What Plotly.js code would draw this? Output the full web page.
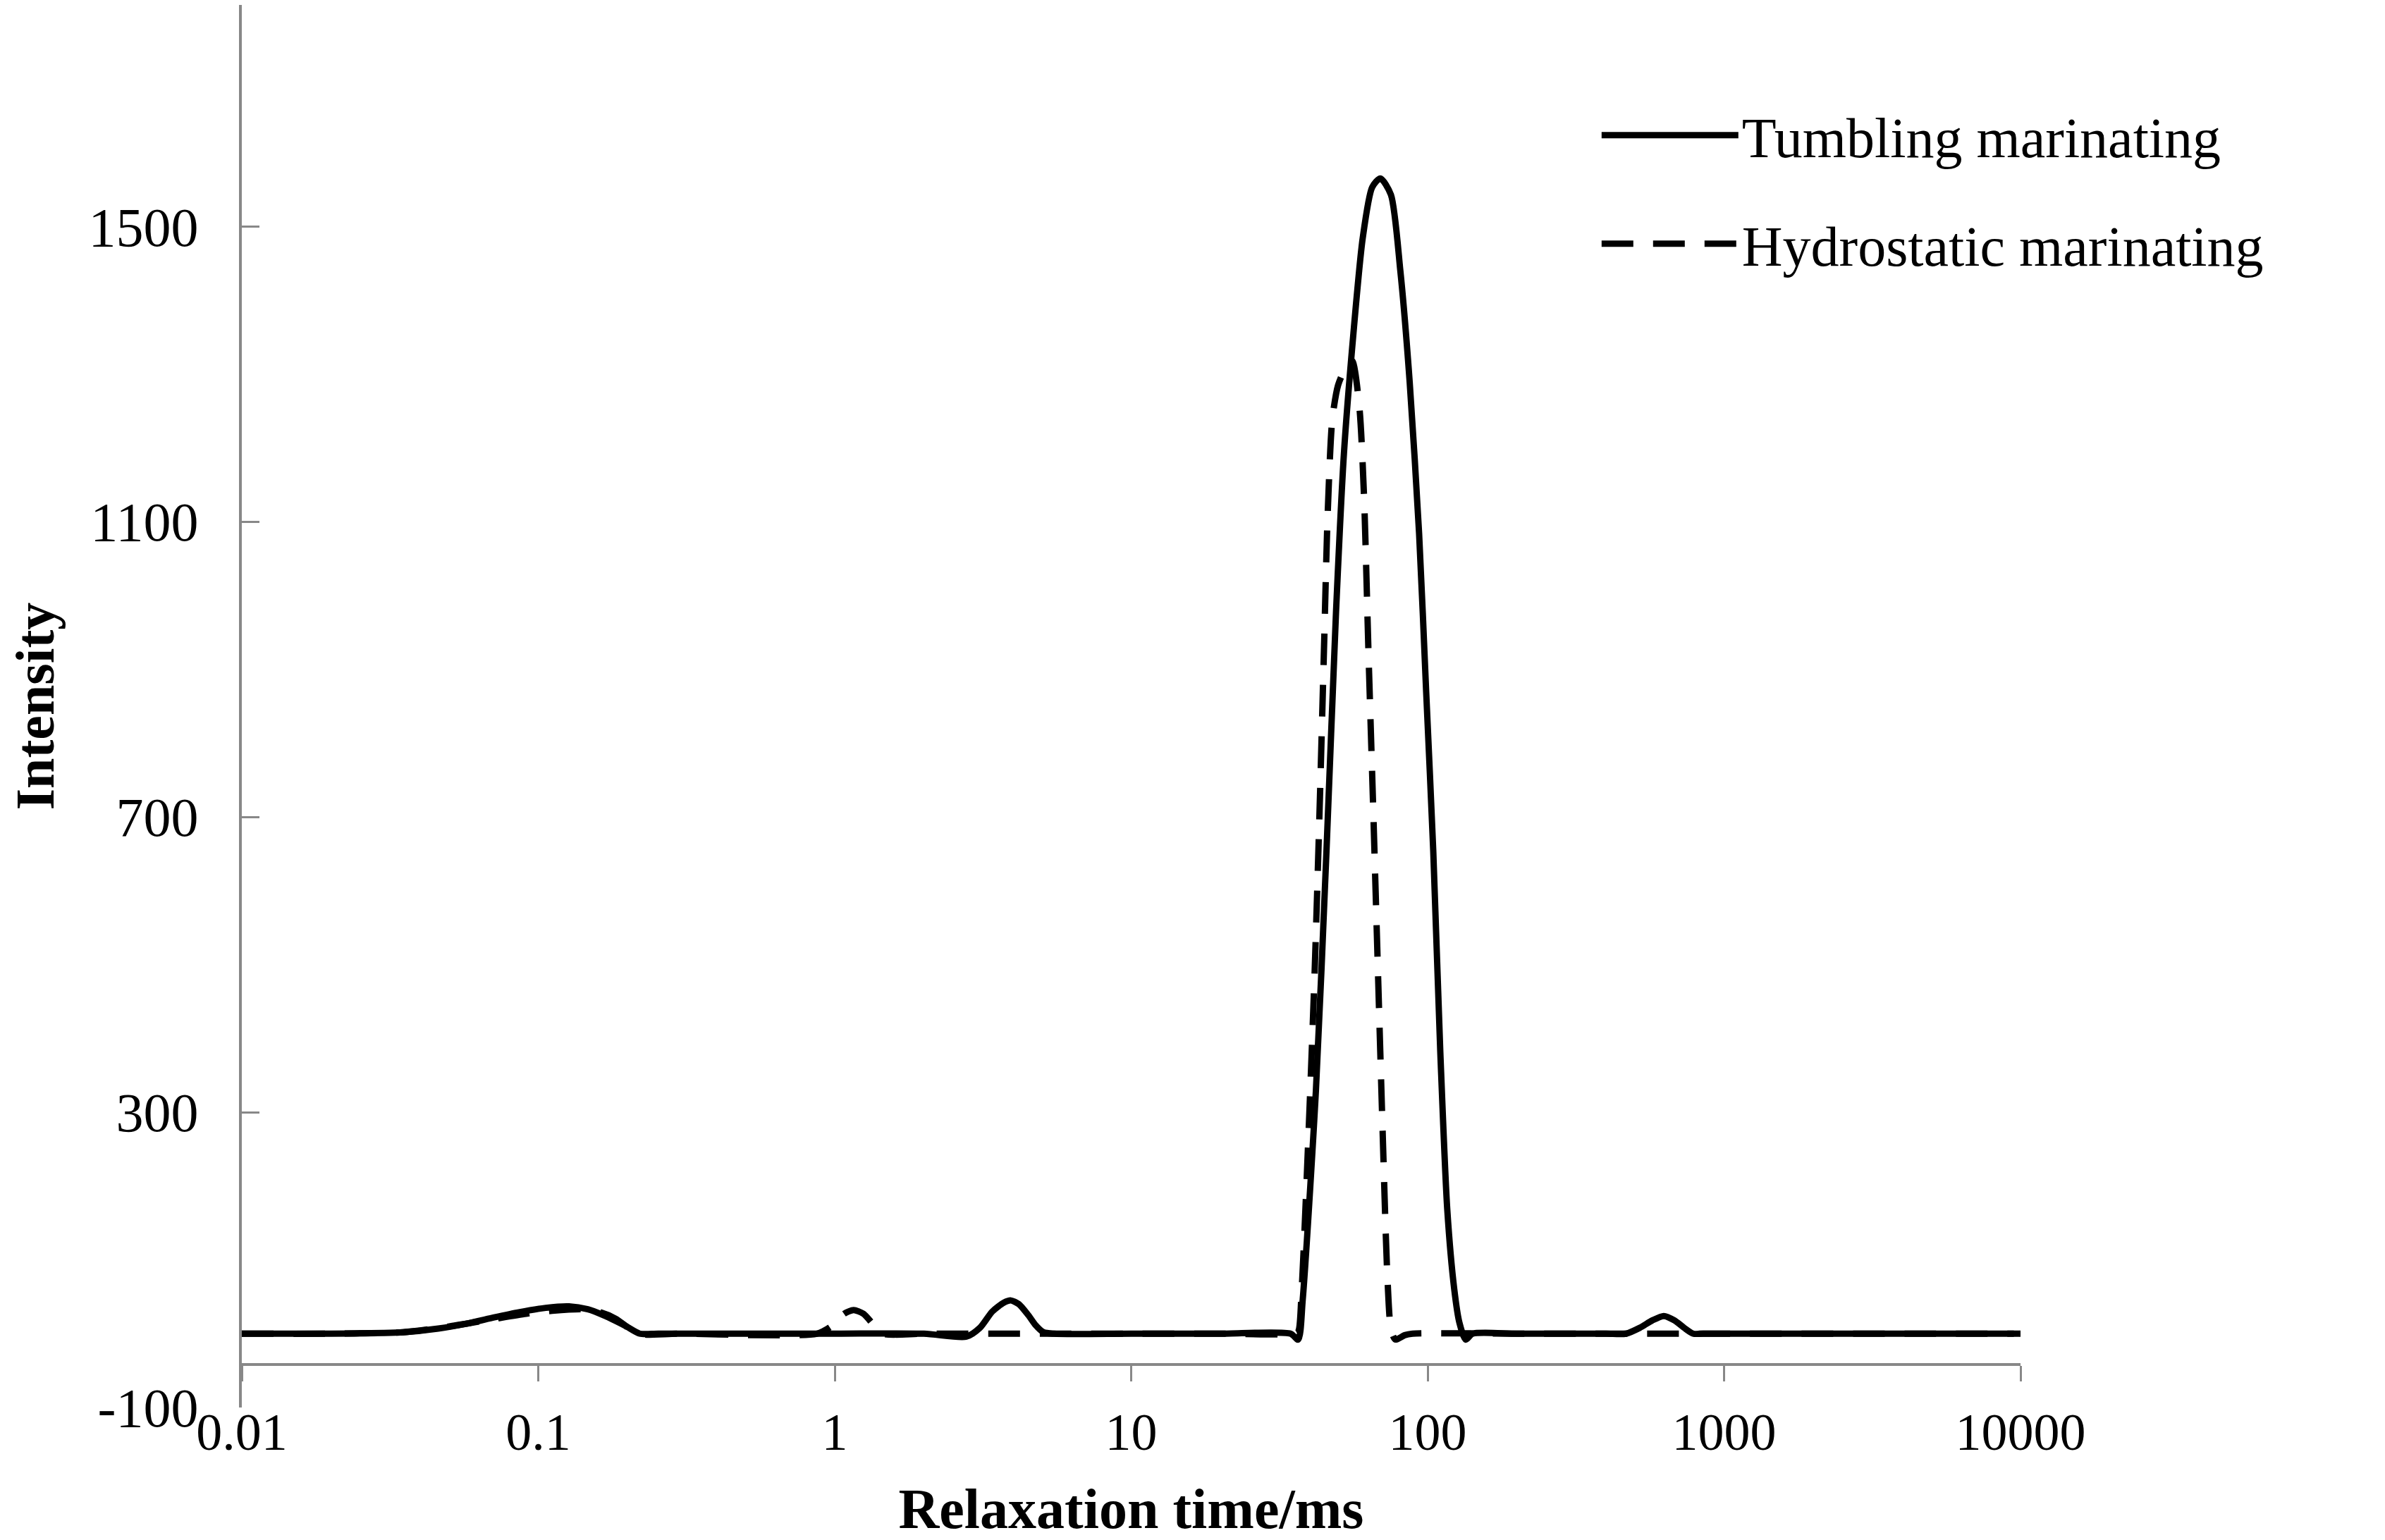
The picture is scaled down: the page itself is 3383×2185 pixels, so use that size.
<!DOCTYPE html>
<html>
<head>
<meta charset="utf-8">
<script src="https://cdn.plot.ly/plotly-3.0.1.min.js"></script>
<style>
  html, body { margin: 0; padding: 0; background: #fff; }
  #chart { width: 3383px; height: 2185px; }
</style>
</head>
<body>
<div id="chart"></div>
<script>
// relaxation time (ms) and intensity
var tumblingX = [0.01, 0.02, 0.03, 0.035, 0.046, 0.058, 0.071, 0.086, 0.106, 0.127, 0.147, 0.166, 0.183, 0.198, 0.22, 0.254,
  0.5, 1, 2, 2.78, 3.09, 3.4, 3.72, 3.93, 4.18, 4.5, 4.75, 5.06, 5.48, 10, 20, 34.5, 36.6, 37.9, 42, 45.6, 49.1, 52.2, 56.2, 60.4,
  65, 69.3, 75.2, 80.9, 87, 93.6, 98.9, 104.5, 110.3, 116.5, 123, 128, 134.4, 141.8, 200, 400, 467, 520, 573, 626, 680,
  733, 787, 850, 2000, 5000, 9500];
var tumblingY = [0, 0, 1, 2, 7, 14, 22, 29, 35, 37, 33, 25, 17, 10, 0, 0,
  0, 0, 0, -4, 8, 30, 42, 45, 40, 25, 12, 2, 0, 0, 0, 0, -8, 46, 330, 655, 978, 1192, 1355, 1484,
  1553, 1565, 1543, 1440, 1289, 1084, 869, 653, 384, 168, 60, 15, -8, 0, 0, 0, 0, 8, 18, 24, 18,
  8, 0, 0, 0, 0, 0];

var hydroX = [0.01, 0.02, 0.035, 0.0505, 0.071, 0.091, 0.1115, 0.142, 0.162, 0.183, 0.198, 0.213, 0.3, 0.87, 0.974, 1.076, 1.158,
  1.25, 1.353, 1.455, 2, 5, 10, 20, 35.5, 36.6, 37.6, 39.7, 41.6, 43.2, 44.7, 46, 47.7, 49.9, 52.8, 55.6, 58.8, 61, 63.2, 65.6,
  68, 70.5, 73.1, 75.3, 77.9, 83.7, 89, 200, 1000, 5000, 10000];
var hydroY = [0, 0, 2, 10, 20, 27, 31, 33, 29, 20, 10, 0, 0, 0, 10, 27, 32,
  27, 12, 0, 0, 0, 0, 0, 0, 3, 60, 276, 492, 708, 925, 1109, 1239, 1285, 1308, 1318, 1257, 1136, 920, 705,
  490, 275, 81, 5, -8, -2, 0, 0, 0, 0, 0];

var xTickVals = [0.01, 0.1, 1, 10, 100, 1000, 10000];
var xTickText = ['0.01', '0.1', '1', '10', '100', '1000', '10000'];
var yTickVals = [-100, 300, 700, 1100, 1500];
var yTickText = ['-100', '300', '700', '1100', '1500'];

var serif = 'Liberation Serif, Times New Roman, serif';

var tumbling = {
  x: tumblingX,
  y: tumblingY,
  name: 'Tumbling marinating',
  type: 'scatter',
  mode: 'lines',
  legendgroup: 'a',
  line: { color: '#000', width: 9, shape: 'spline', smoothing: 0.7 }
};

var hydrostatic = {
  x: hydroX,
  y: hydroY,
  name: 'Hydrostatic marinating',
  type: 'scatter',
  mode: 'lines',
  legendgroup: 'b',
  line: { color: '#000', width: 9, dash: '45px,28px', shape: 'spline', smoothing: 0.7 }
};

var layout = {
  width: 3383,
  height: 2185,
  margin: { l: 343, r: 517, t: 7, b: 188 },
  paper_bgcolor: '#fff',
  plot_bgcolor: '#fff',
  showlegend: true,
  legend: {
    x: 0.7625, y: 0.9365, xanchor: 'left', yanchor: 'top',
    font: { family: serif, size: 80, color: '#000' },
    itemwidth: 194,
    tracegroupgap: 47,
    bgcolor: 'rgba(0,0,0,0)'
  },
  xaxis: {
    type: 'log',
    range: [-2, 4],
    tickmode: 'array',
    tickvals: xTickVals,
    ticktext: xTickText,
    ticks: 'outside',
    ticklen: 22,
    tickwidth: 3,
    tickcolor: '#888',
    showline: true,
    linecolor: '#888',
    linewidth: 4,
    anchor: 'free',
    position: 0.0307,
    showgrid: false,
    zeroline: false,
    ticklabelstandoff: 8,
    tickfont: { family: serif, size: 74, color: '#000' },
    title: {
      text: 'Relaxation time/ms',
      font: { family: serif, size: 80, color: '#000', weight: 'bold' },
      standoff: 48
    }
  },
  yaxis: {
    range: [-100, 1800],
    tickmode: 'array',
    tickvals: yTickVals,
    ticktext: yTickText,
    ticks: 'inside',
    ticklen: 25,
    tickwidth: 3,
    tickcolor: '#888',
    showline: true,
    linecolor: '#888',
    linewidth: 4,
    showgrid: false,
    zeroline: false,
    ticklabelstandoff: 42,
    tickfont: { family: serif, size: 78, color: '#000' },
    title: {
      text: 'Intensity',
      font: { family: serif, size: 78, color: '#000', weight: 'bold' },
      standoff: 24
    }
  }
};

Plotly.newPlot('chart', [tumbling, hydrostatic], layout, { displayModeBar: false, staticPlot: true });
</script>
</body>
</html>
